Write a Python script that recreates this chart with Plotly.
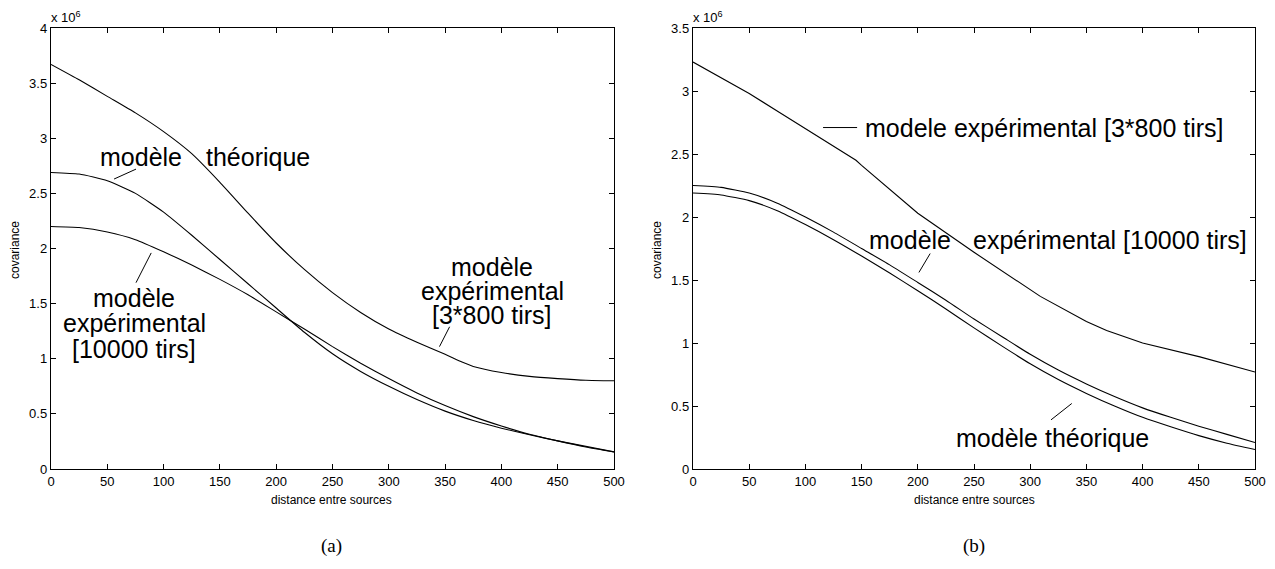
import plotly.graph_objects as go

# ---------------- data (covariance in units of 1e6) ----------------
dist_a = [0, 25, 50, 75, 100, 125, 150, 175, 200, 225, 250, 275, 300, 325, 350, 365, 375, 400, 425, 450, 475, 500]
exp800_a = [3.67, 3.53, 3.38, 3.23, 3.06, 2.86, 2.60, 2.32, 2.05, 1.81, 1.60, 1.42, 1.27, 1.15, 1.04, 0.97, 0.93, 0.875, 0.84, 0.82, 0.805, 0.80]

dist_a2 = [0, 25, 50, 75, 100, 125, 150, 175, 200, 225, 250, 275, 300, 325, 350, 375, 400, 425, 450, 475, 500]
theo_a = [2.69, 2.675, 2.615, 2.50, 2.33, 2.12, 1.90, 1.68, 1.46, 1.24, 1.045, 0.885, 0.75, 0.63, 0.525, 0.44, 0.37, 0.31, 0.255, 0.205, 0.155]
exp10000_a = [2.20, 2.19, 2.15, 2.08, 1.97, 1.85, 1.72, 1.58, 1.425, 1.27, 1.11, 0.96, 0.82, 0.69, 0.575, 0.475, 0.39, 0.315, 0.255, 0.20, 0.155]

dist_b = [0, 50, 77, 100, 145, 150, 196, 200, 250, 309, 350, 368, 400, 451, 500]
exp800_b = [3.23, 2.98, 2.83, 2.70, 2.45, 2.41, 2.06, 2.03, 1.72, 1.37, 1.17, 1.10, 1.00, 0.89, 0.77]

dist_b2 = [0, 25, 50, 75, 100, 125, 150, 175, 200, 225, 250, 275, 300, 325, 350, 375, 400, 425, 450, 475, 500]
exp10000_b = [2.25, 2.235, 2.19, 2.11, 2.00, 1.88, 1.75, 1.62, 1.48, 1.34, 1.19, 1.05, 0.91, 0.785, 0.675, 0.575, 0.485, 0.41, 0.34, 0.275, 0.21]
theo_b = [2.19, 2.175, 2.13, 2.05, 1.94, 1.82, 1.69, 1.555, 1.415, 1.27, 1.12, 0.975, 0.835, 0.71, 0.60, 0.50, 0.41, 0.335, 0.265, 0.205, 0.155]

x_ticks = [0, 50, 100, 150, 200, 250, 300, 350, 400, 450, 500]
y_ticks_a = [0, 0.5, 1, 1.5, 2, 2.5, 3, 3.5, 4]
y_ticks_b = [0, 0.5, 1, 1.5, 2, 2.5, 3, 3.5]

# the page body adds an 8px margin around the figure
W, H, OFF = 1259, 553, 8


def px(X):
    return (X - OFF) / W


def py(Y):
    return 1 - (Y - OFF) / H


FONT = "Liberation Sans, Arial, Helvetica, sans-serif"

fig = go.Figure()
series = [
    (dist_a, exp800_a, "x", "y", "spline"),
    (dist_a2, theo_a, "x", "y", "spline"),
    (dist_a2, exp10000_a, "x", "y", "spline"),
    (dist_b, exp800_b, "x2", "y2", "linear"),
    (dist_b2, exp10000_b, "x2", "y2", "spline"),
    (dist_b2, theo_b, "x2", "y2", "spline"),
]
for xs, ys, xa, ya, shp in series:
    fig.add_trace(go.Scatter(x=xs, y=ys, mode="lines",
                             line=dict(color="black", width=1.1, shape=shp, smoothing=0.5),
                             xaxis=xa, yaxis=ya, showlegend=False, hoverinfo="skip"))


def lbl(v):
    return "%g" % v


axis_common = dict(showgrid=False, zeroline=False, showline=True, linecolor="black",
                   linewidth=1.4, mirror="ticks", ticks="inside", ticklen=5,
                   tickcolor="black", tickwidth=1, automargin=False,
                   tickfont=dict(family=FONT, size=13, color="black"))

fig.update_layout(
    width=W, height=H, autosize=False,
    margin=dict(l=0, r=0, t=0, b=0, pad=0, autoexpand=False),
    paper_bgcolor="white", plot_bgcolor="white",
    xaxis=dict(domain=[px(51), px(614)], range=[0, 500], anchor="y",
               tickvals=x_ticks, ticktext=[lbl(v) for v in x_ticks], **axis_common),
    yaxis=dict(domain=[py(469), py(28)], range=[0, 4], anchor="x",
               tickvals=y_ticks_a, ticktext=[lbl(v) for v in y_ticks_a], **axis_common),
    xaxis2=dict(domain=[px(693), px(1255)], range=[0, 500], anchor="y2",
                tickvals=x_ticks, ticktext=[lbl(v) for v in x_ticks], **axis_common),
    yaxis2=dict(domain=[py(469), py(28)], range=[0, 3.5], anchor="x2",
                tickvals=y_ticks_b, ticktext=[lbl(v) for v in y_ticks_b], **axis_common),
)

ann_font = dict(family=FONT, size=25, color="black")
# (text, xref, yref, x, y, xanchor)
labels = [
    ("modèle", "x", "y", 80, 2.83, "center"),
    ("théorique", "x", "y", 184, 2.83, "center"),
    ("modèle", "x", "y", 74, 1.55, "center"),
    ("expérimental", "x", "y", 74, 1.32, "center"),
    ("[10000 tirs]", "x", "y", 74, 1.09, "center"),
    ("modèle", "x", "y", 392, 1.83, "center"),
    ("expérimental", "x", "y", 392, 1.615, "center"),
    ("[3*800 tirs]", "x", "y", 392, 1.40, "center"),
    ("modele expérimental [3*800 tirs]", "x2", "y2", 151, 2.71, "left"),
    ("modèle", "x2", "y2", 193, 1.82, "center"),
    ("expérimental [10000 tirs]", "x2", "y2", 247, 1.82, "left"),
    ("modèle théorique", "x2", "y2", 320, 0.25, "center"),
]
annotations = []
for t, xr, yr, xx, yy, xa in labels:
    annotations.append(dict(text=t, xref=xr, yref=yr, x=xx, y=yy, xanchor=xa,
                            yanchor="middle", showarrow=False, font=ann_font))

# leader lines (layout decoration)
leaders = [
    ("x", "y", 56, 2.63, 75.5, 2.72),
    ("x", "y", 89, 1.96, 75.5, 1.69),
    ("x", "y", 354, 1.29, 345, 1.11),
    ("x2", "y2", 115.7, 2.71, 146, 2.71),
    ("x2", "y2", 211, 1.71, 201, 1.56),
    ("x2", "y2", 337, 0.52, 318.5, 0.39),
]
shapes = [dict(type="line", xref=xr, yref=yr, x0=a, y0=b, x1=c, y1=d,
               line=dict(color="black", width=1)) for xr, yr, a, b, c, d in leaders]

small = dict(family=FONT, size=12, color="black")
for X in (49, 691):
    annotations.append(dict(text="x 10<sup>6</sup>", xref="paper", yref="paper",
                            x=px(X), y=py(17), xanchor="left", yanchor="middle",
                            showarrow=False, font=dict(family=FONT, size=13, color="black")))
for X in (15, 657):
    annotations.append(dict(text="covariance", xref="paper", yref="paper", textangle=-90,
                            x=px(X), y=py(250), xanchor="center", yanchor="middle",
                            showarrow=False, font=small))
for X in (332, 974):
    annotations.append(dict(text="distance entre sources", xref="paper", yref="paper",
                            x=px(X), y=py(500), xanchor="center", yanchor="middle",
                            showarrow=False, font=small))
for t, X in (("(a)", 332), ("(b)", 974)):
    annotations.append(dict(text=t, xref="paper", yref="paper",
                            x=px(X), y=py(546), xanchor="center", yanchor="middle",
                            showarrow=False,
                            font=dict(family="Liberation Serif, DejaVu Serif, serif", size=19, color="black")))

fig.update_layout(annotations=annotations, shapes=shapes)
fig.write_html("out.html")
